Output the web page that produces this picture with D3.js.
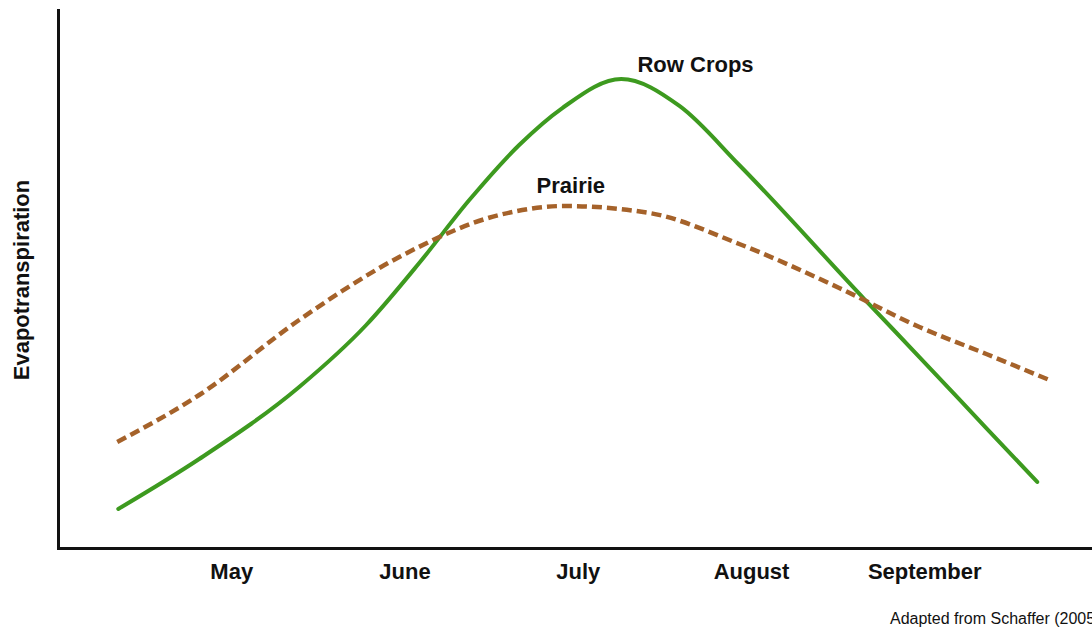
<!DOCTYPE html>
<html>
<head>
<meta charset="utf-8">
<script src="https://cdn.jsdelivr.net/npm/d3@7"></script>
<style>
  html, body { margin: 0; padding: 0; background: #fff; }
  svg { display: block; font-family: "Liberation Sans", Arial, Helvetica, sans-serif; }
</style>
</head>
<body>
<script>
// ---- data (month as fractional number: 5 = May ... 9 = September; values in arbitrary units) ----
const monthLabels = ["May", "June", "July", "August", "September"];
const monthTicks = [5, 6, 7, 8, 9];

const rowCropMonths = [4.348, 4.815, 5.392, 5.779, 6.085, 6.374, 6.662, 6.911, 7.251, 7.587, 7.932, 8.654, 8.972, 9.358, 9.652];
const rowCropValues = [7.25, 16.54, 29.93, 41.45, 52.97, 64.68, 74.91, 81.78, 87.17, 82.16, 71.19, 46.28, 35.50, 22.30, 12.27];

const prairieMonths = [4.342, 4.815, 5.392, 5.970, 6.547, 6.922, 7.413, 7.932, 8.509, 8.972, 9.358, 9.722];
const prairieValues = [19.70, 28.44, 42.38, 54.09, 61.90, 63.57, 62.27, 56.51, 48.33, 41.08, 36.06, 31.23];

const seriesNames = ["Row Crops", "Prairie"];
const labelMonths = [7.68, 6.96];
const labelValues = [88.5, 66.0];

const yAxisTitle = "Evapotranspiration";
const sourceNote = "Adapted from Schaffer (2005)";

// ---- drawing ----
const W = 1092, H = 628;
const svg = d3.select("body").append("svg").attr("width", W).attr("height", H);

const x = d3.scaleLinear().domain([4, 10]).range([58, 1097.5]);
const y = d3.scaleLinear().domain([0, 100]).range([548, 10]);

const line = d3.line()
  .x(d => x(d[0]))
  .y(d => y(d[1]))
  .curve(d3.curveMonotoneX);

const rowCrops = rowCropMonths.map((m, i) => [m, rowCropValues[i]]);
const prairie = prairieMonths.map((m, i) => [m, prairieValues[i]]);

// lines
svg.append("path")
  .datum(rowCrops)
  .attr("d", line)
  .attr("fill", "none")
  .attr("stroke", "#3d9a1f")
  .attr("stroke-width", 4)
  .attr("stroke-linecap", "round")
  .attr("stroke-linejoin", "round");

svg.append("path")
  .datum(prairie)
  .attr("d", line)
  .attr("fill", "none")
  .attr("stroke", "#a5622a")
  .attr("stroke-width", 4.5)
  .attr("stroke-dasharray", "10,5");

// axes
const xAxis = d3.axisBottom(x)
  .tickValues(monthTicks)
  .tickFormat((d, i) => monthLabels[i])
  .tickSize(0)
  .tickSizeOuter(0);

const gx = svg.append("g").attr("transform", `translate(0,${y(0)})`).call(xAxis);
gx.select(".domain").attr("stroke", "#111").attr("stroke-width", 3).attr("stroke-linecap", "square");
gx.selectAll(".tick text")
  .attr("y", 31)
  .attr("dy", null)
  .attr("fill", "#111")
  .attr("font-size", 22)
  .attr("font-weight", "bold")
  .attr("font-family", "'Liberation Sans', Arial, sans-serif");

const yAxis = d3.axisLeft(y).tickValues([]).tickSizeOuter(0);
const gy = svg.append("g").attr("transform", `translate(${x(4)},0)`).call(yAxis);
gy.select(".domain").attr("stroke", "#111").attr("stroke-width", 3).attr("stroke-linecap", "square");

// y axis title
svg.append("text")
  .attr("transform", `translate(29,${(y(0) + y(100)) / 2 + 1}) rotate(-90)`)
  .attr("text-anchor", "middle")
  .attr("font-size", 22)
  .attr("font-weight", "bold")
  .attr("fill", "#111")
  .text(yAxisTitle);

// series labels
seriesNames.forEach((name, i) => {
  svg.append("text")
    .attr("x", x(labelMonths[i]))
    .attr("y", y(labelValues[i]))
    .attr("text-anchor", "middle")
    .attr("font-size", 22)
    .attr("font-weight", "bold")
    .attr("fill", "#111")
    .text(name);
});

// source note (cut at the right edge, as in the reference)
svg.append("text")
  .attr("x", 890)
  .attr("y", 624)
  .attr("font-size", 16)
  .attr("fill", "#111")
  .text(sourceNote);
</script>
</body>
</html>
